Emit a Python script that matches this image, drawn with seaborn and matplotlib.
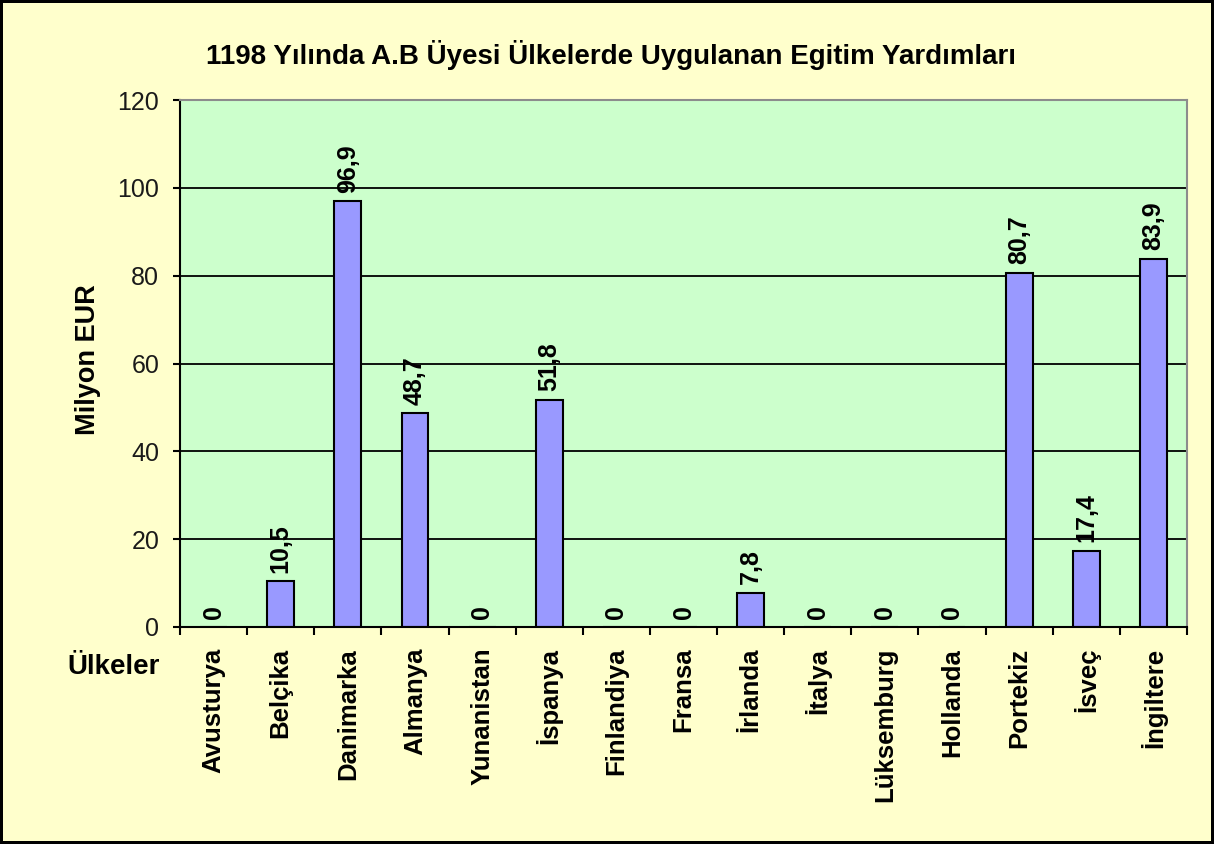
import matplotlib
matplotlib.use("Agg")
import matplotlib.pyplot as plt
import seaborn as sns
import pandas as pd
from matplotlib.ticker import FixedLocator

countries = ["Avusturya", "Belçika", "Danimarka", "Almanya", "Yunanistan", "İspanya",
             "Finlandiya", "Fransa", "İrlanda", "İtalya", "Lüksemburg", "Hollanda",
             "Portekiz", "İsveç", "İngiltere"]
values = [0, 10.5, 96.9, 48.7, 0, 51.8, 0, 0, 7.8, 0, 0, 0, 80.7, 17.4, 83.9]
value_labels = ["0", "10,5", "96,9", "48,7", "0", "51,8", "0", "0", "7,8", "0", "0", "0",
                "80,7", "17,4", "83,9"]
yticks = [0, 20, 40, 60, 80, 100, 120]
title = "1198 Yılında A.B Üyesi Ülkelerde Uygulanan Egitim Yardımları"
ylabel = "Milyon EUR"
xlabel = "Ülkeler"

sns.set_style("white")
plt.rcParams['font.family'] = ['Liberation Sans', 'DejaVu Sans']
plt.rcParams['text.color'] = 'black'
plt.rcParams['xtick.color'] = 'black'
plt.rcParams['ytick.color'] = 'black'

fig = plt.figure(figsize=(12.14, 8.44), dpi=100, facecolor="#FFFFCC")
fig.patch.set_edgecolor("black")
fig.patch.set_linewidth(3)

ax = fig.add_axes([180 / 1214, 1 - 627 / 844, (1187 - 180) / 1214, (627 - 100) / 844])
ax.set_facecolor("#CCFFCC")

df = pd.DataFrame({"country": countries, "value": values})
sns.barplot(data=df, x="country", y="value", ax=ax, color="#9999FF", saturation=1,
            width=0.4, edgecolor="black", linewidth=1.5, errorbar=None)

ax.set_ylim(0, 120)
ax.set_xlim(-0.5, len(countries) - 0.5)
ax.set_yticks(yticks)
ax.yaxis.grid(True, color="black", linewidth=1.3)
ax.set_axisbelow(True)

for s in ["left", "bottom"]:
    ax.spines[s].set_color("black")
    ax.spines[s].set_linewidth(1.5)
for s in ["top", "right"]:
    ax.spines[s].set_color("#8c8c8c")
    ax.spines[s].set_linewidth(1.5)

ax.tick_params(axis="y", direction="out", length=5, width=1.5, color="black",
               labelsize=18, pad=10, left=True, labelcolor="#1a1a1a")
ax.xaxis.set_minor_locator(FixedLocator([i - 0.5 for i in range(len(countries) + 1)]))
ax.tick_params(axis="x", which="major", length=0, pad=15, labelsize=18.5, rotation=90,
               labelcolor="black")
ax.tick_params(axis="x", which="minor", direction="out", length=6, width=1.5,
               color="black", bottom=True)
for lab in ax.get_xticklabels():
    lab.set_fontweight("bold")
    lab.set_va("top")

ax.set_xlabel("")
ax.set_ylabel("")

ax.bar_label(ax.containers[0], labels=value_labels, rotation=90, padding=6,
             fontsize=18, fontweight="bold", color="black")

fig.text(611 / 1214, 1 - 55 / 844, title, ha="center", va="center",
         fontsize=20, fontweight="bold", color="black")
fig.text(88 / 1214, 1 - 360 / 844, ylabel, ha="center", va="center",
         rotation=90, fontsize=19.5, fontweight="bold", color="black")
fig.text(67 / 1214, 1 - 667 / 844, xlabel, ha="left", va="center",
         fontsize=20, fontweight="bold", color="black")

fig.savefig("out.png", dpi=100, facecolor=fig.get_facecolor(),
            edgecolor=fig.get_edgecolor())
